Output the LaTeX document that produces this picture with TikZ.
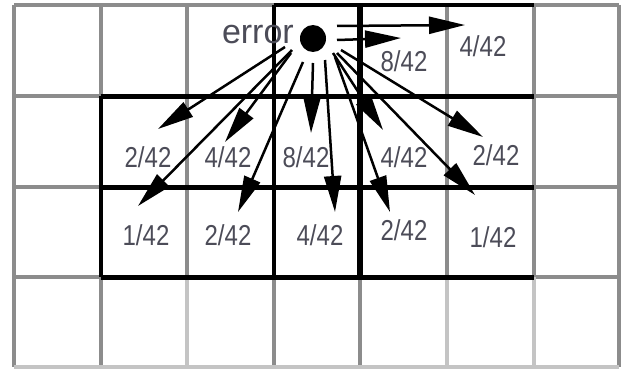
\documentclass[tikz,border=0pt]{standalone}
\usepackage{fontspec}
\setmainfont{Liberation Sans}
\usetikzlibrary{arrows.meta,shapes.geometric}
\definecolor{gridgray}{HTML}{8C8C8C}
\definecolor{lightgray2}{HTML}{C4C4C4}
\definecolor{txtgray}{HTML}{4C4C58}
\tikzset{
  gline/.style={draw=gridgray, line width=4pt},
  ghline/.style={draw=gridgray, line width=4.5pt},
  lline/.style={draw=lightgray2, line width=4pt},
  bline/.style={draw=black, line width=4pt},
  bhline/.style={draw=black, line width=5pt},
  tline/.style={draw=black, line width=6.5pt},
  wlabel/.style={text=txtgray, font=\fontsize{24}{24}\selectfont, inner sep=0pt, yscale=1.2},
  arr/.style={draw=black, line width=2.5pt, -{Triangle[length=36pt,width=17pt]}},
}
\begin{document}
\begin{tikzpicture}[x=1pt,y=-1pt]
\useasboundingbox (0,0) rectangle (621,369);
\fill[white] (0,0) rectangle (621,369);
% gray grid
\foreach \x in {14,100.5,187,273.5,360,446.5,533.5,619} {\draw[gline] (\x,5) -- (\x,367);}
\draw[gline] (14,5) -- (619,5);
\foreach \y in {96,187,277} {\draw[ghline] (14,\y) -- (619,\y);}
\draw[lline] (14,367) -- (619,367);
\draw[lline] (187,277) -- (187,367);
\draw[lline] (446.5,277) -- (446.5,367);
\draw[lline] (533.5,277) -- (533.5,367);
% black frame
\draw[bline] (273.5,5) -- (533.5,5);
\foreach \y in {96,187,277} {\draw[bhline] (100.5,\y) -- (533.5,\y);}
\draw[bline] (100.5,96) -- (100.5,277);
\draw[bline] (273.5,5) -- (273.5,277);
\draw[tline] (360,5) -- (360,277);
% error pixel
\node[fill=black, ellipse, minimum width=26pt, minimum height=27pt, inner sep=0pt] (dot) at (313,38.5) {};
\node[anchor=east, text=txtgray, font=\fontsize{34}{34}\selectfont, inner sep=0pt] (err) at (294,35) {error};
% labels
\node[wlabel] (r0c4) at (404,61) {8/42};
\node[wlabel] (r0c5) at (483,46) {4/42};
\node[wlabel] (r1c1) at (148,157) {2/42};
\node[wlabel] (r1c2) at (228,157) {4/42};
\node[wlabel] (r1c3) at (306,157) {8/42};
\node[wlabel] (r1c4) at (404,157) {4/42};
\node[wlabel] (r1c5) at (496,155) {2/42};
\node[wlabel] (r2c1) at (146,235) {1/42};
\node[wlabel] (r2c2) at (228,235) {2/42};
\node[wlabel] (r2c3) at (320,235) {4/42};
\node[wlabel] (r2c4) at (404,230) {2/42};
\node[wlabel] (r2c5) at (493,237) {1/42};
% arrow endpoints
\coordinate (tA1) at (337,26);  \coordinate (hA1) at (465,25);
\coordinate (tA2) at (337,40);  \coordinate (hA2) at (401,38);
\coordinate (tB1) at (285,47);  \coordinate (hB1) at (158,129);
\coordinate (tB2) at (292,50);  \coordinate (hB2) at (138,206);
\coordinate (tB3) at (291,53);  \coordinate (hB3) at (225,142);
\coordinate (tB4) at (303,62);  \coordinate (hB4) at (238,212);
\coordinate (tB5) at (313,63);  \coordinate (hB5) at (311,133);
\coordinate (tB6) at (325,60);  \coordinate (hB6) at (335,212);
\coordinate (tB7) at (333,53);  \coordinate (hB7) at (383,130);
\coordinate (tB8) at (335,57);  \coordinate (hB8) at (390,212);
\coordinate (tB9) at (341,50);  \coordinate (hB9) at (483,137);
\coordinate (tB10) at (337,53); \coordinate (hB10) at (475,195);
\foreach \a in {A1,A2,B1,B2,B3,B4,B5,B6,B7,B8,B9,B10} {\draw[arr] (t\a) -- (h\a);}
\end{tikzpicture}
\end{document}
